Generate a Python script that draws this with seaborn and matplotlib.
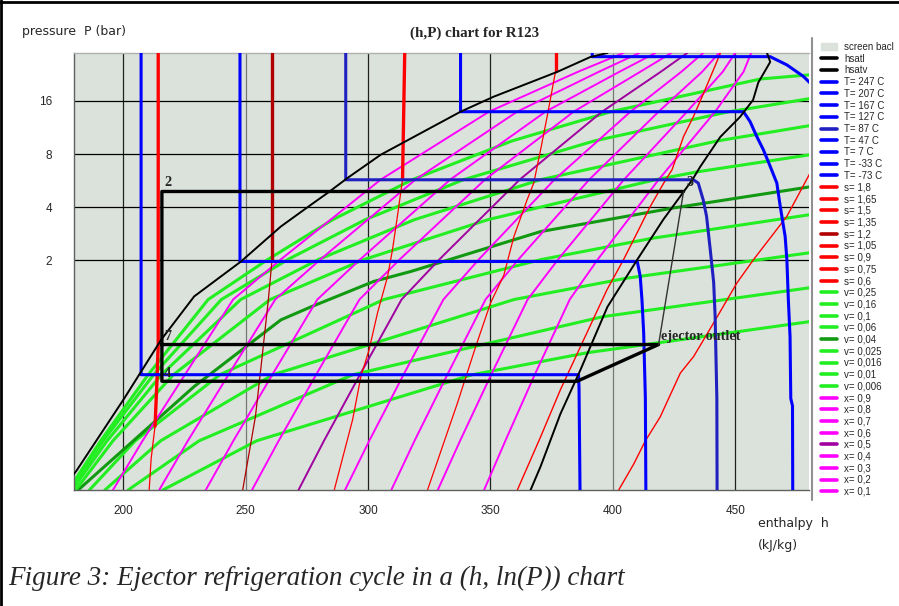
import matplotlib
matplotlib.use("Agg")
import matplotlib.pyplot as plt
from matplotlib.lines import Line2D
from matplotlib.patches import Patch
import pandas as pd
import seaborn as sns

# all values: enthalpy h in kJ/kg, pressure P in bar

# saturation dome
hsatl = [(178.8, 0.118), (180.8, 0.128), (200.4, 0.33), (215.5, 0.71), (229.0, 1.25),
         (248.1, 1.97), (264.4, 3.11), (276.7, 4.13), (283.6, 4.83), (291.8, 5.88),
         (305.2, 7.93), (337.8, 13.9), (351.3, 16.9), (377.4, 23.4), (390.9, 28.4), (397.8, 29.9)]
hsatv = [(463.0, 29.9), (464.3, 26.6), (459.4, 20.3), (457.3, 16.2), (452.0, 13.0),
         (443.9, 10.0), (435.7, 6.78), (432.5, 5.72), (420.6, 3.40), (410.0, 2.02),
         (397.8, 1.09), (386.8, 0.48), (378.6, 0.27), (370.5, 0.136), (366.4, 0.10)]

# isotherms
t7 = [(207.3, 30), (207.3, 0.45), (386.0, 0.45), (386.2, 0.38), (386.6, 0.10)]
t47 = [(247.7, 30), (247.7, 1.97), (410.0, 1.97), (411.2, 1.62), (411.9, 1.20),
       (412.6, 0.78), (413.3, 0.33), (413.5, 0.10)]
t87 = [(290.9, 30), (290.9, 5.72), (432.9, 5.72), (434.9, 5.48), (436.9, 4.41),
       (438.3, 3.55), (439.8, 2.30), (441.2, 1.50), (441.8, 0.96), (442.5, 0.33), (442.6, 0.10)]
t127 = [(337.8, 30), (337.8, 13.9), (453.4, 13.9), (456.1, 12.2), (458.8, 10.06),
        (461.5, 8.46), (464.3, 6.81), (467.0, 5.48), (468.4, 4.04), (470.4, 2.73),
        (471.1, 2.02), (471.7, 1.20), (472.4, 0.74), (472.7, 0.33), (473.4, 0.30), (473.5, 0.10)]
t167 = [(391.6, 30), (391.6, 28.5), (464.3, 28.5), (465.6, 27.9), (471.1, 25.6),
        (477.9, 22.0), (480.6, 20.2)]

# isentropes: thick part (liquid) and thin part
s105_liq = [(214.3, 30), (214.3, 0.66), (213.8, 0.42), (213.0, 0.23)]
s105_mix = [(213.0, 0.23), (211.4, 0.15), (210.6, 0.10)]
s120_liq = [(260.8, 30), (260.8, 2.02)]
s120_mix = [(260.8, 2.02), (259.3, 1.20), (256.3, 0.50), (254.0, 0.26), (248.8, 0.10)]
s135_liq = [(315.0, 30), (314.1, 5.72)]
s135_mix = [(314.1, 5.72), (312.0, 3.55), (310.0, 2.30), (308.0, 1.62), (303.9, 1.01),
            (300.4, 0.62), (297.1, 0.44), (293.7, 0.25), (286.2, 0.10)]
s150_liq = [(376.6, 30), (376.6, 23.5)]
s150_mix = [(376.6, 23.5), (373.2, 13.1), (370.5, 8.46), (367.7, 5.48), (365.0, 4.41),
            (359.6, 2.73), (355.5, 1.65), (350.1, 1.15), (344.0, 0.65), (336.5, 0.31), (324.3, 0.10)]
s165 = [(444.0, 30.0), (441.1, 24.0), (437.1, 17.7), (433.0, 13.1), (428.9, 10.06),
        (424.2, 6.52), (420.8, 5.48), (415.3, 4.04), (409.9, 2.86), (404.4, 2.02),
        (397.7, 1.37), (388.1, 0.71), (378.6, 0.37), (370.5, 0.20), (361.0, 0.10)]
s180 = [(480.6, 6.25), (471.1, 3.55), (457.5, 2.02), (450.7, 1.49), (441.1, 0.88),
        (433.0, 0.57), (427.6, 0.46), (422.8, 0.33), (419.4, 0.26), (413.3, 0.19),
        (408.5, 0.14), (402.4, 0.10)]

# isochores
v025 = [(216.2, 0.10), (254.5, 0.19), (342.6, 0.45), (389.8, 0.60), (480.6, 0.90)]
v016 = [(202.0, 0.10), (231.0, 0.19), (293.8, 0.45), (396.1, 0.96), (480.6, 1.40)]
v01 = [(192.5, 0.10), (215.3, 0.19), (261.2, 0.45), (359.7, 1.2), (405.1, 1.58), (480.6, 2.21)]
v006 = [(186.2, 0.10), (204.9, 0.19), (239.5, 0.45), (306.5, 1.2), (370.7, 2.02),
        (415.6, 2.66), (480.6, 3.63)]
v004 = [(181.6, 0.10), (229.0, 0.386), (264.4, 0.92), (276.7, 1.09), (302.4, 1.52),
        (317.5, 1.73), (370.5, 2.91), (424.3, 3.95), (480.6, 5.22)]
v0025 = [(180.6, 0.10), (195.8, 0.19), (220.5, 0.45), (260.0, 1.2), (298.3, 2.02),
         (349.0, 3.4), (417.3, 5.72), (434.4, 6.34), (480.6, 7.93)]
v0016 = [(179.2, 0.10), (193.4, 0.19), (215.6, 0.45), (248.0, 1.2), (279.7, 2.02),
         (319.0, 3.4), (370.3, 5.72), (442.8, 9.5), (480.6, 11.6)]
v001 = [(178.3, 0.10), (191.8, 0.19), (212.4, 0.45), (240.1, 1.2), (267.2, 2.02),
        (298.9, 3.4), (338.9, 5.72), (392.5, 9.5), (447.4, 13.9), (454.5, 14.4), (480.6, 16.5)]
v0006 = [(177.6, 0.10), (190.8, 0.19), (210.2, 0.45), (234.7, 1.2), (259.0, 2.02),
         (285.6, 3.4), (318.0, 5.72), (358.9, 9.5), (399.2, 13.9), (436.2, 18.0),
         (460.3, 21.3), (480.6, 22.5)]

# quality lines, h at these pressures
quality_p = [0.10, 0.19, 0.45, 1.2, 2.02, 5.72, 13.9, 23.4, 29.9]
x01 = [195.8, 207.9, 225.2, 244.9, 264.3, 305.1, 349.4, 385.8, 404.3]
x02 = [214.7, 226.4, 243.0, 262.1, 280.5, 319.3, 360.9, 394.3, 410.8]
x03 = [233.7, 245.0, 260.9, 279.3, 296.7, 333.5, 372.5, 402.7, 417.4]
x04 = [252.6, 263.5, 278.8, 296.5, 312.9, 347.7, 384.0, 411.2, 423.9]
x05 = [271.6, 282.0, 296.7, 313.7, 329.1, 361.9, 395.6, 419.6, 430.4]
x06 = [290.6, 300.5, 314.5, 330.8, 345.2, 376.1, 407.2, 428.0, 436.9]
x07 = [309.5, 319.0, 332.4, 348.0, 361.4, 390.3, 418.7, 436.5, 443.4]
x08 = [328.5, 337.6, 350.3, 365.2, 377.6, 404.5, 430.3, 444.9, 450.0]
x09 = [347.4, 356.1, 368.1, 382.4, 393.8, 418.7, 441.8, 453.4, 456.5]

# ejector cycle: 3 -> 2 -> 4 -> 4' -> ejector outlet -> 7, plus 3 -> ejector outlet
cycle_h = [428.9, 215.8, 215.8, 385.4, 418.7, 215.8]
cycle_p = [4.91, 4.91, 0.413, 0.413, 0.667, 0.667]
nozzle_h = [428.9, 418.7]
nozzle_p = [4.91, 0.667]

BG = "#dbe2db"
BLUE, DBLUE = "#0000ff", "#2020c0"
RED, DRED = "#ff0000", "#b00000"
GREEN, DGREEN = "#22ee22", "#119911"
MAG, PURP = "#ff00ff", "#a000a0"

sns.set_style("white")
plt.rcParams["font.family"] = ["Liberation Sans", "DejaVu Sans"]

fig = plt.figure(figsize=(8.99, 6.06), dpi=100)
ax = fig.add_axes([0.0826, 0.1914, 0.8169, 0.7216])
ax.set_facecolor(BG)


def curve(points, color, lw, z):
    df = pd.DataFrame(points, columns=["h", "P"])
    sns.lineplot(data=df, x="h", y="P", ax=ax, sort=False, estimator=None,
                 color=color, linewidth=lw, zorder=z)


for v, c in [(v025, GREEN), (v016, GREEN), (v01, GREEN), (v006, GREEN), (v004, DGREEN),
             (v0025, GREEN), (v0016, GREEN), (v001, GREEN), (v0006, GREEN)]:
    curve(v, c, 2.2, 2)

for q, c in [(x01, MAG), (x02, MAG), (x03, MAG), (x04, MAG), (x05, PURP),
             (x06, MAG), (x07, MAG), (x08, MAG), (x09, MAG)]:
    curve(list(zip(q, quality_p)), c, 1.4, 3)

for liq, mix, c in [(s105_liq, s105_mix, RED), (s120_liq, s120_mix, DRED),
                    (s135_liq, s135_mix, RED), (s150_liq, s150_mix, RED)]:
    curve(liq, c, 2.4, 4)
    curve(mix, c, 0.9, 4)
curve(s165, RED, 1.0, 4)
curve(s180, RED, 1.0, 4)

for t, c in [(t7, BLUE), (t47, BLUE), (t87, DBLUE), (t127, BLUE), (t167, BLUE)]:
    curve(t, c, 2.2, 5)

curve(hsatl, "black", 1.4, 6)
curve(hsatv, "black", 1.4, 6)

curve(list(zip(cycle_h, cycle_p)), "black", 2.4, 7)
curve(list(zip(nozzle_h, nozzle_p)), "#333333", 1.0, 7)

lab = dict(family=["Liberation Serif", "DejaVu Serif"], fontweight="bold", fontsize=10.2, zorder=8)
ax.text(218.2, 5.5, "2", ha="center", va="center", **lab)
ax.text(431.6, 5.5, "3", ha="center", va="center", **lab)
ax.text(218.2, 0.74, "7", ha="center", va="center", **lab)
ax.text(218.2, 0.46, "4", ha="center", va="center", **lab)
ax.text(419.8, 0.74, "ejector outlet", ha="left", va="center", **lab)

# axes, grid, ticks
ax.set_yscale("log")
ax.set_xlim(180, 480)
ax.set_ylim(0.1, 30)
ax.set_xlabel("")
ax.set_ylabel("")
ax.set_xticks([200, 250, 300, 350, 400, 450])
ax.set_xticks(list(range(180, 481, 30)), minor=True)
ax.set_yticks([2, 4, 8, 16])
ax.set_yticklabels(["2", "4", "8", "16"])
ax.yaxis.set_minor_locator(plt.NullLocator())
ax.tick_params(axis="x", which="major", length=8, width=0.9, color="#303030", labelsize=8.5, pad=3)
ax.tick_params(axis="x", which="minor", length=5, width=0.9, color="#505050")
ax.tick_params(axis="y", which="major", length=10, width=0.9, color="black", labelsize=8.5, pad=6)

for hx in [200, 250, 300, 350, 400, 450]:
    ax.axvline(hx, color="#777777" if hx in (250, 400) else "#202020", lw=0.9, zorder=1)
for py in [2, 4, 8, 16]:
    ax.axhline(py, color="black", lw=0.9, zorder=1)

ax.spines["right"].set_visible(False)
ax.spines["top"].set_color("#b0b0b0")
ax.spines["left"].set_color("#606060")
ax.spines["bottom"].set_color("#606060")
for sp in ax.spines.values():
    sp.set_linewidth(1.0)

# legend
handles = [Patch(facecolor=BG, edgecolor=BG)]
labels = ["screen bacl", "hsatl", "hsatv"]
handles += [Line2D([], [], color="black", lw=2.6), Line2D([], [], color="black", lw=2.6)]
for name in ["247", "207", "167", "127", "87", "47", "7", "-33", "-73"]:
    handles.append(Line2D([], [], color=DBLUE if name == "87" else BLUE, lw=2.6))
    labels.append("T= " + name + " C")
for name in ["1,8", "1,65", "1,5", "1,35", "1,2", "1,05", "0,9", "0,75", "0,6"]:
    handles.append(Line2D([], [], color=DRED if name == "1,2" else RED, lw=2.6))
    labels.append("s= " + name)
for name in ["0,25", "0,16", "0,1", "0,06", "0,04", "0,025", "0,016", "0,01", "0,006"]:
    handles.append(Line2D([], [], color=DGREEN if name == "0,04" else GREEN, lw=2.6))
    labels.append("v= " + name)
for name in ["0,9", "0,8", "0,7", "0,6", "0,5", "0,4", "0,3", "0,2", "0,1"]:
    handles.append(Line2D([], [], color=PURP if name == "0,5" else MAG, lw=2.6))
    labels.append("x= " + name)
fig.legend(handles, labels, loc="upper left", bbox_to_anchor=(821 / 899, 1 - 42 / 606),
           frameon=False, fontsize=7, handlelength=1.6, handletextpad=0.8,
           labelspacing=0.175, borderaxespad=0, borderpad=0)

# texts around the plot
small = dict(family=["DejaVu Sans"], fontsize=9)
fig.text(475 / 899, 1 - 33 / 606, "(h,P) chart for R123", ha="center", va="center",
         family=["Liberation Serif", "DejaVu Serif"], fontweight="bold", fontsize=10.8)
fig.text(22 / 899, 1 - 32 / 606, "pressure  P (bar)", ha="left", va="center", **small)
fig.text(758 / 899, 1 - 524 / 606, "enthalpy  h", ha="left", va="center", **small)
fig.text(758 / 899, 1 - 545 / 606, "(kJ/kg)", ha="left", va="center", **small)
fig.text(8 / 899, 1 - 578 / 606, "Figure 3: Ejector refrigeration cycle in a (h, ln(P)) chart",
         ha="left", va="center", family=["Liberation Serif", "DejaVu Serif"],
         style="italic", fontsize=19.5)

# frame pieces of the page
fig.add_artist(Line2D([812 / 899, 812 / 899], [1 - 38 / 606, 1 - 500 / 606], color="#909090", lw=1.5))
fig.add_artist(Line2D([0.0015, 0.0015], [0, 1], color="black", lw=2))
fig.add_artist(Line2D([0, 1], [0.997, 0.997], color="black", lw=2))

fig.savefig("out.png", dpi=100)
